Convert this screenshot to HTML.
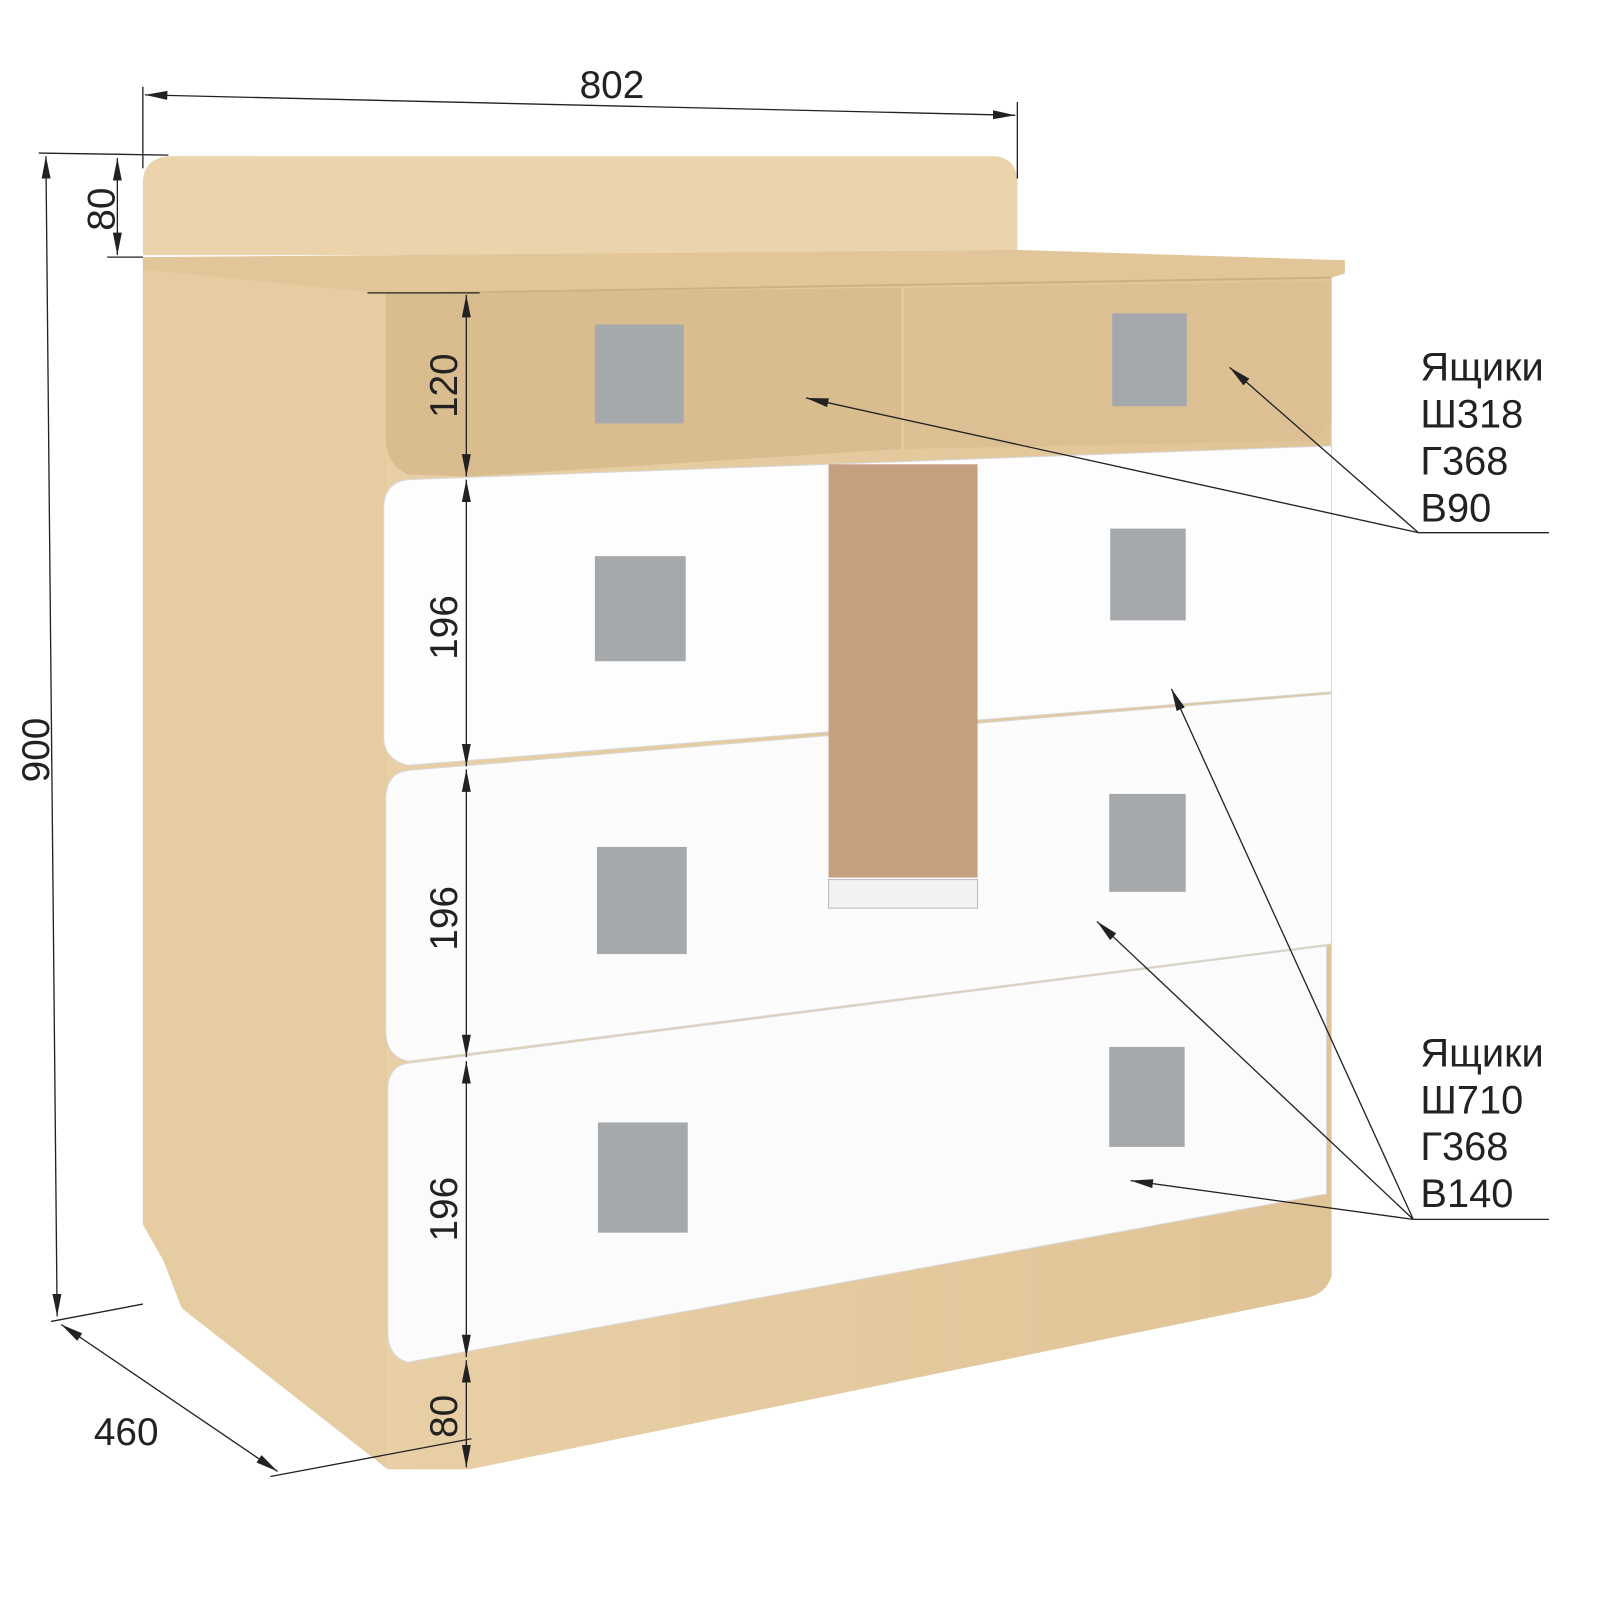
<!DOCTYPE html>
<html><head><meta charset="utf-8"><style>
html,body{margin:0;padding:0;background:#fff;width:1600px;height:1600px;overflow:hidden}
svg{display:block}
text{font-family:"Liberation Sans",sans-serif;fill:#222}
</style></head><body>
<svg width="1600" height="1600" viewBox="0 0 1568 1568" xmlns="http://www.w3.org/2000/svg">
<defs>
<marker id="b" viewBox="0 0 10 10" refX="10" refY="5" markerWidth="22" markerHeight="22" orient="auto-start-reverse" markerUnits="userSpaceOnUse"><path d="M0,3 L10,5 L0,7 z" fill="#222"/></marker>
<linearGradient id="w" x1="0" x2="1"><stop offset="0" stop-color="#e8cfa5"/><stop offset="1" stop-color="#e0c497"/></linearGradient>
</defs>
<path d="M140,250 L140,180 Q140,153 170,153 L975,153 Q997,155 997,180 L997,250 z" fill="#ebd4ac"/>
<path d="M140,262 L380,286 L380,1440 L178,1282 L160,1235 L140,1200 z" fill="#e5cca1"/>
<path d="M380,282 L1305,266 L1305,1250 Q1300,1268 1280,1272 L460,1440 L380,1440 z" fill="url(#w)"/>
<path d="M140,252 L1000,245 L1318,255 L1318,268 L1305,272 L380,288 L140,264 z" fill="#e2c699"/>
<path d="M380,288 L1305,272" stroke="#cdb084" stroke-width="2"/>
<path d="M378,288 L883,282 L883,440 L460,467 L400,465 Q378,455 378,430 z" fill="#dabd8f"/>
<path d="M886,282 L1305,276 L1305,410 Q1300,428 1280,432 L886,440 z" fill="#dcc093"/>
<path d="M400,470 L1305,437 L1305,678 L400,750 Q378,745 376,725 L376,495 Q378,472 400,470 z" fill="#fdfdfd" stroke="#d8d8d8"/>
<path d="M400,755 L1305,680 L1305,925 L400,1040 Q378,1035 378,1010 L378,780 Q380,757 400,755 z" fill="#fcfcfc" stroke="#d8d8d8"/>
<path d="M400,1042 L1300,927 L1300,1170 L400,1335 Q380,1330 380,1305 L380,1065 Q382,1044 400,1042 z" fill="#fbfbfb" stroke="#d8d8d8"/>
<rect x="812" y="862" width="146" height="28" fill="#f2f2f2" stroke="#bbb"/>
<rect x="812" y="455" width="146" height="405" fill="#c4a07f"/>
<g fill="#a6a9ab">
<rect x="583" y="318" width="87" height="97"/><rect x="1090" y="307" width="73" height="91"/>
<rect x="583" y="545" width="89" height="103"/><rect x="1088" y="518" width="74" height="90"/>
<rect x="585" y="830" width="88" height="105"/><rect x="1087" y="778" width="75" height="96"/>
<rect x="586" y="1100" width="88" height="108"/><rect x="1087" y="1026" width="74" height="98"/>
</g>
<g stroke="#222" stroke-width="1.3" fill="none">
<line x1="140" y1="85" x2="140" y2="165"/><line x1="997" y1="100" x2="997" y2="175"/>
<line x1="142" y1="93" x2="995" y2="113" marker-start="url(#b)" marker-end="url(#b)"/>
<line x1="38" y1="150" x2="165" y2="152"/>
<line x1="45" y1="153" x2="56" y2="1290" marker-start="url(#b)" marker-end="url(#b)"/>
<line x1="105" y1="252" x2="140" y2="252"/>
<line x1="115" y1="155" x2="115" y2="250" marker-start="url(#b)" marker-end="url(#b)"/>
<line x1="360" y1="287" x2="470" y2="287"/>
<line x1="457" y1="289" x2="457" y2="467" marker-start="url(#b)" marker-end="url(#b)"/>
<line x1="457" y1="470" x2="457" y2="751" marker-start="url(#b)" marker-end="url(#b)"/>
<line x1="457" y1="754" x2="457" y2="1036" marker-start="url(#b)" marker-end="url(#b)"/>
<line x1="457" y1="1040" x2="457" y2="1330" marker-start="url(#b)" marker-end="url(#b)"/>
<line x1="457" y1="1333" x2="457" y2="1438" marker-start="url(#b)" marker-end="url(#b)"/>
<line x1="50" y1="1295" x2="140" y2="1278"/>
<line x1="265" y1="1447" x2="462" y2="1410"/>
<line x1="60" y1="1298" x2="272" y2="1442" marker-start="url(#b)" marker-end="url(#b)"/>
<line x1="1390" y1="522" x2="1518" y2="522"/>
<line x1="1390" y1="522" x2="790" y2="390" marker-end="url(#b)"/>
<line x1="1390" y1="522" x2="1205" y2="360" marker-end="url(#b)"/>
<line x1="1385" y1="1195" x2="1518" y2="1195"/>
<line x1="1385" y1="1195" x2="1148" y2="675" marker-end="url(#b)"/>
<line x1="1385" y1="1195" x2="1075" y2="903" marker-end="url(#b)"/>
<line x1="1385" y1="1195" x2="1108" y2="1157" marker-end="url(#b)"/>
</g>
<g font-size="38">
<text x="568" y="96">802</text>
<text transform="translate(112,205) rotate(-90)" text-anchor="middle">80</text>
<text transform="translate(48,735) rotate(-90)" text-anchor="middle">900</text>
<text transform="translate(448,378) rotate(-90)" text-anchor="middle">120</text>
<text transform="translate(448,615) rotate(-90)" text-anchor="middle">196</text>
<text transform="translate(448,900) rotate(-90)" text-anchor="middle">196</text>
<text transform="translate(448,1185) rotate(-90)" text-anchor="middle">196</text>
<text transform="translate(448,1388) rotate(-90)" text-anchor="middle">80</text>
<text x="92" y="1416">460</text>
</g>
<g font-size="39">
<text x="1392" y="373">Ящики</text><text x="1392" y="419">Ш318</text><text x="1392" y="465">Г368</text><text x="1392" y="511">В90</text>
<text x="1392" y="1045">Ящики</text><text x="1392" y="1091">Ш710</text><text x="1392" y="1137">Г368</text><text x="1392" y="1183">В140</text>
</g>
</svg>
</body></html>
